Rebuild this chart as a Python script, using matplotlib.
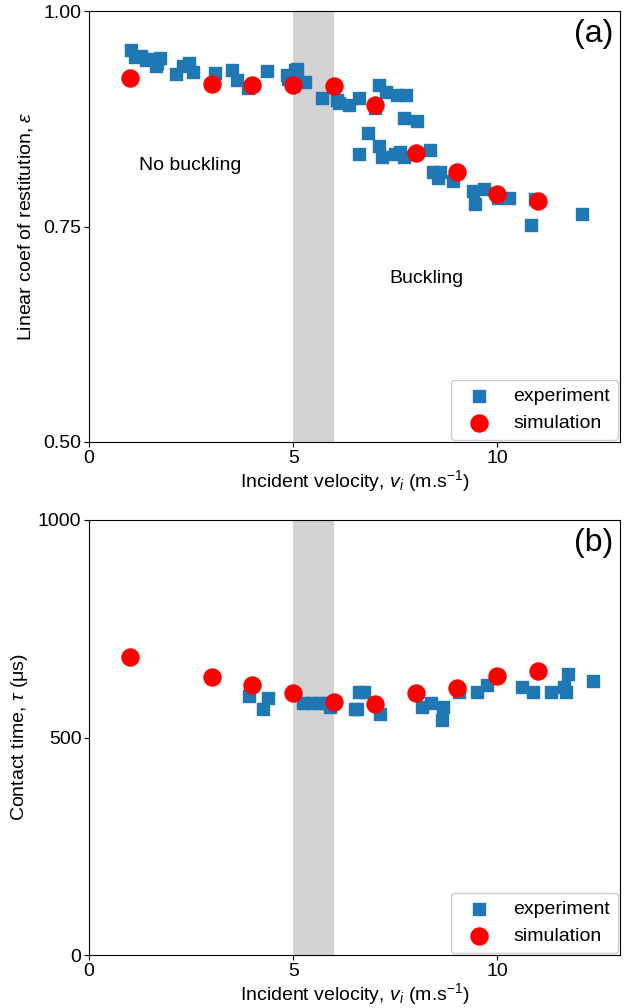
import matplotlib
matplotlib.use("Agg")
import matplotlib.pyplot as plt

plt.rcParams['font.family'] = ['Liberation Sans', 'DejaVu Sans']
plt.rcParams['mathtext.fontset'] = 'custom'
plt.rcParams['mathtext.rm'] = 'Liberation Sans'
plt.rcParams['mathtext.it'] = 'Liberation Sans:italic'
plt.rcParams['mathtext.bf'] = 'Liberation Sans:bold'
plt.rcParams['font.size'] = 14

# Panel (a): coefficient of restitution
exp_a_v = [1.03, 1.13, 1.27, 1.40, 1.52, 1.67, 1.74, 1.64,
           2.13, 2.30, 2.45, 2.55, 3.09, 3.50, 3.63, 3.90, 4.36,
           4.88, 4.98, 5.10, 5.29, 5.05, 4.85,
           5.71, 6.08, 6.12, 6.37, 6.62, 7.01, 7.11, 7.28, 7.55, 7.75,
           7.70, 8.04, 6.84, 6.62, 7.11, 7.18, 7.50, 7.62, 7.70,
           8.36, 8.43, 8.60, 8.55, 8.92, 9.41, 9.66, 9.46, 10.02,
           10.29, 10.93, 10.81, 12.08]
exp_a_eps = [0.955, 0.947, 0.948, 0.943, 0.944, 0.940, 0.945, 0.936,
             0.927, 0.936, 0.940, 0.929, 0.928, 0.932, 0.920, 0.911, 0.930,
             0.921, 0.923, 0.933, 0.918, 0.932, 0.926,
             0.899, 0.897, 0.893, 0.891, 0.899, 0.887, 0.914, 0.906, 0.903, 0.903,
             0.876, 0.872, 0.858, 0.834, 0.843, 0.831, 0.834, 0.836, 0.831,
             0.839, 0.813, 0.813, 0.806, 0.803, 0.791, 0.793, 0.776, 0.783,
             0.783, 0.782, 0.752, 0.765]
sim_v = [1, 3, 4, 5, 6, 7, 8, 9, 10, 11]
sim_eps = [0.922, 0.915, 0.914, 0.914, 0.913, 0.891, 0.835, 0.813, 0.788, 0.780]

# Panel (b): contact time (microseconds)
exp_b_v = [3.92, 4.39, 4.26, 5.25, 5.45, 5.65, 5.85, 5.90, 6.52, 6.60,
           6.74, 6.56, 7.13, 8.15, 8.38, 8.67, 8.64, 9.07, 9.49, 9.75,
           10.60, 10.87, 11.30, 11.64, 11.69, 11.72, 12.33]
exp_b_tau = [595, 591, 566, 579, 580, 580, 580, 570, 566, 605,
             605, 565, 554, 569, 580, 569, 540, 605, 605, 621,
             615, 605, 605, 615, 605, 646, 631]
sim_tau = [686, 640, 621, 602, 582, 576, 603, 614, 641, 654]

fig = plt.figure(figsize=(6.35, 10.08), dpi=100)
L, R = 89 / 635, 620 / 635
ax1 = fig.add_axes([L, 1 - 442 / 1008, R - L, (442 - 11) / 1008])
ax2 = fig.add_axes([L, 1 - 955 / 1008, R - L, (955 - 520) / 1008])

sq_color = '#1f77b4'
for ax in (ax1, ax2):
    ax.axvspan(5, 6, color='lightgray', zorder=0, lw=0)
    ax.set_xlim(0, 13)
    ax.set_xticks([0, 5, 10])
    ax.tick_params(labelsize=14, pad=2)

ax1.scatter(exp_a_v, exp_a_eps, marker='s', s=75, color=sq_color, label='experiment', zorder=2)
ax1.scatter(sim_v, sim_eps, marker='o', s=150, color='red', label='simulation', zorder=3)
ax1.set_ylim(0.5, 1.0)
ax1.set_yticks([0.5, 0.75, 1.0])
ax1.set_yticklabels(['0.50', '0.75', '1.00'])
ax1.set_xlabel(r'Incident velocity, $v_i$ (m.s$^{-1}$)', fontsize=14, labelpad=1)
ax1.set_ylabel(r'Linear coef of restitution, $\varepsilon$', fontsize=14, labelpad=6)
ax1.text(1.22, 0.821, 'No buckling', fontsize=14, va='center')
ax1.text(7.35, 0.69, 'Buckling', fontsize=14, va='center')
ax1.text(0.988, 0.982, '(a)', transform=ax1.transAxes, fontsize=23, ha='right', va='top')
ax1.legend(loc='lower right', fontsize=14, framealpha=1, borderaxespad=0.1)

ax2.scatter(exp_b_v, exp_b_tau, marker='s', s=75, color=sq_color, label='experiment', zorder=2)
ax2.scatter(sim_v, sim_tau, marker='o', s=150, color='red', label='simulation', zorder=3)
ax2.set_ylim(0, 1000)
ax2.set_yticks([0, 500, 1000])
ax2.set_xlabel(r'Incident velocity, $v_i$ (m.s$^{-1}$)', fontsize=14, labelpad=1)
ax2.set_ylabel(r'Contact time, $\tau$ (μs)', fontsize=14, labelpad=6)
ax2.text(0.988, 0.982, '(b)', transform=ax2.transAxes, fontsize=23, ha='right', va='top')
ax2.legend(loc='lower right', fontsize=14, framealpha=1, borderaxespad=0.1)

fig.savefig('out.png', dpi=100)
